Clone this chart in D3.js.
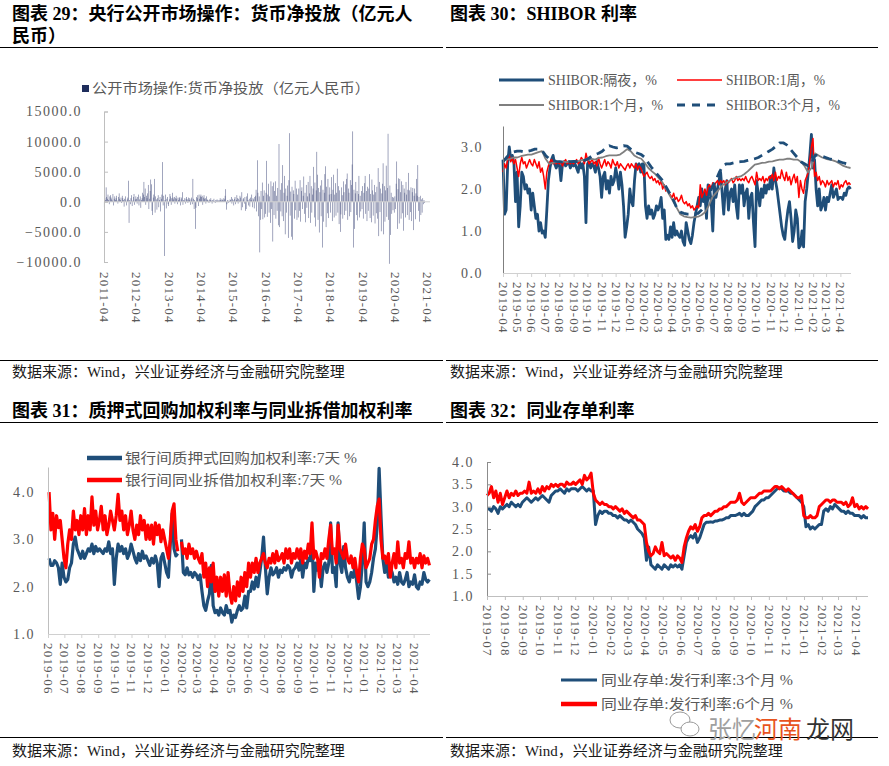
<!DOCTYPE html>
<html><head><meta charset="utf-8">
<script src="https://cdn.jsdelivr.net/npm/d3@7"></script>
<style>body{margin:0;background:#fff}svg{display:block}</style>
</head><body>
<svg id="c" width="889" height="766"></svg>
<script>
// ---------------- DATA ----------------
// Chart 29: weekly net injection (亿元人民币), from 2011-04 weekly
const netInjection = [
-900,600,300,2400,800,500,1200,300,-400,900,1100,700,400,200,1300,-600,500,900,300,600,1000,200,-300,800,1400,500,300,700,-200,1000,600,300,-800,500,900,200,-600,400,700,3500,-3500,300,-400,600,1100,-700,200,800,1300,-500,400,900,
500,-300,800,1200,-600,400,900,-1000,300,600,1500,1200,3300,800,2200,-500,1000,600,1400,2800,-1200,500,1800,3700,2900,-1500,-2200,700,1200,3800,-1800,900,400,-1300,600,1100,-900,300,800,-1600,500,1200,6600,-600,1000,-9000,300,1200,-1100,500,800,-400,
-700,400,1300,900,-500,600,1500,700,400,800,-300,600,1000,500,-400,700,300,600,800,-600,400,700,1600,-500,300,200,600,-300,500,800,400,-200,700,300,600,-500,400,700,-400,3800,500,-1200,300,-4500,-1000,800,600,1100,-700,1200,500,900,
1200,800,1000,-500,700,1100,500,600,-300,900,400,300,200,-200,400,300,600,200,-300,300,200,500,100,-200,300,200,400,200,100,300,200,600,300,200,500,300,200,600,400,1000,2100,-1300,-400,300,-200,200,100,400,300,800,-300,500,
300,-600,500,800,-400,300,1100,600,-300,500,200,1000,700,-1400,1600,-900,400,600,-300,800,-1500,-1200,900,1400,300,-600,500,-800,700,300,1200,-900,600,400,-1100,800,1000,2000,-1600,6900,1500,-2400,900,-8400,-3000,1800,-1200,3200,-2900,1000,1900,-2600,
-2000,1500,6800,-2500,1200,3000,-1800,900,-3500,3400,-1200,2600,-6600,3200,-2200,1800,3400,-2800,1000,-1500,2300,-3900,9600,-4200,2000,-1600,3100,-2400,6100,-3200,1500,4300,-5400,2200,-1800,1000,2700,-6000,3600,11400,-2300,1700,-5800,2500,-6300,1900,1300,-2800,3500,-1400,2200,-3000,
1200,-2600,2200,-1500,3600,-3300,1800,2400,-1200,1000,4200,-2000,1500,-3400,2800,-1000,900,3300,-2700,1400,4300,-3500,2600,-1800,1200,2200,5800,-2600,3200,-4100,1900,8300,4500,-3000,2300,-5100,1600,2700,-2400,3600,-7600,2000,-3300,1500,4600,5900,-4200,2500,-1900,3800,-2700,1200,
2400,-1800,1300,4100,-3200,2000,4500,-2600,1200,3100,-2300,1500,5500,-1800,2600,-3700,1900,-5000,-2100,2400,1100,-2800,3400,1600,-2200,2900,-1500,3800,4700,-3000,2200,1500,-2400,3600,-1700,2800,6200,11700,-7600,2000,-4500,1400,3300,-2200,1800,-3100,1300,4300,-2600,1000,-1600,1800,
-1200,2600,-2800,1500,3100,4300,-2000,1800,-3200,2500,-1500,2200,4600,-2700,1300,-3400,3700,1900,-2300,1200,2800,-3600,1600,-1900,2500,-2800,5600,-5700,3300,-1700,2200,-4900,1400,3000,6400,-5400,2600,-3300,1900,6000,-2500,2300,11300,-3000,-10300,2700,-5500,1500,-2000,800,-1400,700,
-1800,900,-1200,3000,6700,-4500,2100,3900,-3600,3800,1600,-2800,3400,-1900,2800,-4800,2200,1500,-2600,3300,1200,-2200,2000,4800,-3000,1900,-1700,2400,-3200,1600,2300,-4700,1000,2200,-2900,1400,3800,1000,6100,-1500,800,-3300,1000,-2200,400,-1800,600,-400,300,-200
];
const netTicks = [-10000,-5000,0,5000,10000,15000];

// Chart 30: SHIBOR (%), 2019-04-01 .. 2021-04-23
const shiborON = [
2.7,1.4,1.5,2.6,3.0,2.7,2.8,2.6,1.7, 2.4,1.1,1.6,2.4,2.3,2.0,2.1,1.9,2.0, 1.5,1.9,1.6,1.3,1.4,1.0,1.2,0.95,1.0,
0.85,1.5,2.2,2.5,2.7,2.8,2.6,2.5,2.6, 2.6,2.2,2.6,2.65,2.55,2.6,2.65,2.5,2.6, 2.55,2.6,2.5,2.4,2.65,2.5,2.6,2.3,1.2,
2.6,2.65,2.5,2.6,2.55,2.4,2.65,2.5,2.3, 1.8,2.3,2.4,2.0,2.2,1.9,2.3,2.1,2.2, 2.5,2.3,2.0,2.4,2.1,1.6,0.85,1.1,1.4,
2.0,1.7,1.6,2.2,2.6,2.5,2.6,2.4,2.6, 2.6,1.6,1.3,1.6,1.4,1.5,1.3,1.4,1.6, 1.5,1.6,1.8,1.3,1.5,0.8,0.9,0.8,1.1,
0.85,1.2,0.9,1.0,0.9,0.85,1.0,0.75,0.66, 1.2,1.0,0.8,0.7,0.9,1.2,1.4,1.6,1.8, 1.6,2.0,1.7,1.9,1.3,2.1,2.0,1.7,1.0,
2.1,1.8,2.0,2.2,2.4,1.9,1.4,2.0,2.2, 1.5,1.9,2.0,1.7,2.1,1.6,1.3,2.1,1.9, 2.1,1.6,1.9,2.0,1.3,1.8,1.9,1.2,0.63,
2.2,1.9,1.6,2.0,1.8,2.1,1.9,2.1,2.0, 2.3,2.0,2.5,2.2,2.0,1.7,1.4,1.1,0.9, 0.8,1.2,1.5,1.7,1.3,0.75,1.0,1.5,1.3,
0.6,0.65,1.0,0.62,1.7,2.0,2.4,2.8,3.3, 2.5,2.7,2.0,1.6,2.0,1.5,1.6,1.8,1.5, 1.8,1.7,1.9,2.1,1.8,1.9,2.0,1.75,1.8,
1.8,1.75,1.9,1.85,2.0,2.05,2.0
];
const shibor1W = [
2.4,2.6,2.5,2.7,2.8,2.65,2.75,2.6,2.7, 2.5,2.3,2.6,2.75,2.6,2.65,2.5,2.6,2.7, 2.6,2.55,2.7,2.6,2.5,2.65,2.4,2.5,2.3,
2.0,2.4,2.55,2.65,2.7,2.6,2.65,2.6,2.65, 2.6,2.65,2.55,2.65,2.7,2.6,2.65,2.6,2.65, 2.6,2.65,2.7,2.6,2.65,2.75,2.7,2.6,2.85,
2.7,2.6,2.65,2.7,2.6,2.65,2.55,2.75,2.6, 2.5,2.6,2.7,2.55,2.65,2.6,2.5,2.7,2.6, 2.55,2.65,2.5,2.6,2.55,2.5,2.45,2.55,2.6,
2.5,2.6,2.55,2.5,2.6,2.45,2.55,2.5,2.4, 2.3,2.35,2.4,2.3,2.25,2.3,2.2,2.25,2.15, 2.2,2.1,2.2,2.0,2.1,1.95,2.0,1.9,1.85,
1.8,1.9,1.75,1.8,1.7,1.75,1.85,1.7,1.65, 1.7,1.6,1.65,1.55,1.6,1.5,1.55,1.6,1.55, 2.1,1.8,1.9,2.0,1.85,2.05,2.1,2.0,2.15,
2.1,2.15,2.2,2.1,2.2,2.15,2.2,2.1,2.2, 2.15,2.2,2.25,2.15,2.2,2.3,2.2,2.25,2.2, 2.25,2.2,2.3,2.2,2.15,2.25,2.3,2.2,2.1,
2.4,2.2,2.25,2.2,2.3,2.15,2.25,2.2,2.3, 2.25,2.35,2.2,2.4,2.2,2.3,2.25,2.45,2.3, 2.2,2.4,2.2,2.3,2.1,2.25,2.35,2.15,2.3,
1.8,2.2,2.0,1.9,2.2,2.3,2.4,2.7,3.0, 3.2,2.3,2.4,2.2,2.3,2.1,2.2,2.15,2.05, 2.2,2.1,2.15,2.2,2.05,2.15,2.1,2.2,2.0,
2.1,2.05,2.15,2.2,2.1,2.15,2.1
];
const shibor1M = [
2.7,2.7,2.72,2.75, 2.75,2.78,2.8,2.82, 2.82,2.85,2.88,2.9, 2.72,2.6,2.62,2.64, 2.65,2.65,2.64,2.66,
2.65,2.66,2.68,2.7, 2.7,2.72,2.7,2.74, 2.75,2.78,2.8,2.8, 2.8,2.82,2.88,2.95, 2.9,2.8,2.75,2.72,
2.62,2.5,2.42,2.35, 2.25,2.15,2.0,1.85, 1.7,1.55,1.4,1.35, 1.33,1.32,1.33,1.34, 1.38,1.45,1.6,1.8,
1.9,2.0,2.1,2.15, 2.2,2.25,2.28,2.3, 2.35,2.42,2.5,2.58, 2.6,2.62,2.63,2.65, 2.66,2.68,2.7,2.7,
2.72,2.72,2.7,2.7, 2.65,2.55,2.4,2.5, 2.85,2.8,2.75,2.72, 2.7,2.68,2.65,2.6, 2.55,2.52,2.5
];
const shibor3M = [
2.65,2.75,2.85,2.88, 2.9,2.9,2.88,2.9, 2.92,2.95,2.95,2.92, 2.8,2.72,2.68,2.66, 2.65,2.64,2.65,2.65,
2.66,2.65,2.67,2.68, 2.72,2.78,2.82,2.85, 2.9,2.98,3.03,3.0, 2.98,3.0,3.03,3.02, 2.95,2.88,2.85,2.82,
2.75,2.62,2.5,2.4, 2.3,2.2,2.05,1.9, 1.75,1.55,1.45,1.42, 1.4,1.4,1.41,1.42, 1.5,1.6,1.8,2.05,
2.2,2.4,2.55,2.6, 2.6,2.62,2.64,2.65, 2.66,2.68,2.7,2.72, 2.75,2.8,2.85,2.9, 2.95,3.02,3.1,3.1,
3.05,2.95,2.85,2.75, 2.65,2.6,2.55,2.6, 2.8,2.8,2.78,2.75, 2.72,2.7,2.68,2.65, 2.62,2.6,2.58
];
const shiborTicks = [0,1,2,3];

// Chart 31: 7-day weighted rates (%), 2019-06-03 .. 2021-04-30 (null = holiday gap)
const repo7D = [
2.6,2.45,2.45,2.55,2.5,2.4,2.05,2.5,2.2, 2.1,2.15,2.4,2.5,2.9,3.05,2.8,2.7,2.6, 2.75,2.6,2.7,2.8,2.75,2.9,2.7,2.85,2.75,
2.8,2.75,2.7,2.8,2.75,2.95,2.7,2.8,2.05, 2.6,2.9,2.75,2.85,2.7,2.8,2.6,2.7,2.9, 2.75,2.6,2.5,2.7,2.55,2.75,2.6,2.65,2.55,
2.45,2.6,2.5,2.65,2.5,2.0,2.6,2.7,2.5, 2.3,2.2,2.9,3.55,2.8,2.65,2.7,null, 3.0,2.3,2.25,2.4,2.25,2.3,2.2,2.3,2.25,
2.15,2.25,1.9,1.6,1.5,1.7,1.85,2.45,1.6, 1.45,1.5,1.4,1.55,1.45,1.4,1.6,1.45,1.5, 1.25,1.4,1.35,1.5,1.6,1.5,1.55,1.8,1.55,
1.9,1.9,2.1,1.95,2.2,2.0,2.3,2.6,3.05, 2.4,1.85,2.2,2.4,2.25,2.3,2.4,2.2,2.35, 2.3,2.4,2.35,2.45,2.4,2.2,2.35,2.4,2.5,
2.35,2.6,2.2,2.5,2.4,2.6,2.55,3.0,1.9, 2.5,2.35,2.45,2.0,2.4,2.5,2.3,2.5,3.35, 2.3,2.4,2.0,3.35,2.5,2.3,2.85,2.4,2.2,
2.1,2.3,2.2,2.4,2.1,1.75,2.0,2.5,3.35, 2.1,2.0,2.1,2.3,2.6,2.8,3.3,4.5,3.5, 2.6,2.3,2.5,2.2,2.4,2.3,2.1,2.2,2.05,
2.3,2.1,2.05,2.15,2.3,2.0,2.1,2.05,2.25, 2.0,1.95,2.1,2.05,2.3,2.15,2.1,2.15
];
const ibo7D = [
4.0,3.2,3.55,3.0,3.5,3.25,3.4,3.0,2.6, 2.4,2.9,3.2,3.0,3.6,3.2,3.4,3.1,3.5, 3.2,3.65,3.1,3.5,3.2,3.9,3.3,3.6,3.2,
3.4,3.7,3.2,3.5,3.1,3.3,3.6,3.4,3.2, 3.5,3.95,3.4,3.6,3.2,3.5,3.1,3.3,3.6, 3.2,3.0,3.3,3.1,3.5,3.2,3.4,3.0,3.3,
3.0,3.3,2.9,3.35,3.1,3.3,2.95,3.2,3.0, 2.8,2.6,3.0,3.6,3.75,3.0,2.75,null, 2.95,2.7,2.8,2.6,2.9,2.7,2.8,2.6,2.75,
2.6,2.5,2.7,2.2,2.5,2.0,2.4,2.1,2.5, 1.9,2.2,1.8,2.2,1.9,2.25,1.8,2.3,1.85, 1.65,2.0,1.7,2.1,1.8,2.2,1.9,2.3,2.0,
2.5,2.2,2.5,2.3,2.6,2.3,2.5,2.6,2.7, 2.5,2.4,2.6,2.5,2.7,2.5,2.75,2.55,2.6, 2.7,2.5,2.8,2.6,2.8,2.5,2.7,2.6,2.8,
2.6,2.8,2.5,2.75,2.6,2.9,2.7,3.35,2.6, 2.75,2.6,2.2,2.7,2.6,2.8,2.6,3.0,3.3, 2.7,2.8,2.5,3.3,2.8,2.7,2.6,2.9,2.6,
2.5,2.65,2.4,2.6,2.3,2.1,2.6,2.9,2.8, 2.4,2.5,2.6,2.9,3.0,3.4,3.7,3.85,3.0, 2.6,2.65,2.5,2.7,2.2,2.5,2.7,2.4,2.95,
2.5,2.6,2.4,2.7,2.6,2.95,2.5,2.6,2.4, 2.6,2.5,2.7,2.4,2.65,2.5,2.6,2.45
];
const rateTicks31 = [1,2,3,4];

// Chart 32: NCD issue rates (%), 2019-07-01 .. 2021-04-22
const ncd3M = [
2.95,2.95,2.9,3.0,2.95,2.85,3.0,2.95, 3.0,3.05,3.0,3.1,3.05,3.0,3.05,3.0, 3.1,3.15,3.2,3.15,3.1,3.15,3.2,3.15,
3.2,3.25,3.2,3.15,3.1,3.25,3.3,3.35, 3.35,3.4,3.35,3.3,3.4,3.35,3.4,3.4, 3.4,3.35,3.4,3.45,3.4,3.35,3.4,3.35,
3.35,2.6,2.8,2.9,2.85,2.9,2.9,2.85, 2.85,2.8,2.8,2.75,2.8,2.75,2.7,2.7, 2.65,2.7,2.65,2.6,2.5,2.45,2.4,2.3,
1.8,2.1,1.7,1.65,1.6,1.7,1.65,1.6, 1.7,1.65,1.6,1.7,1.65,1.7,1.65,1.7, 1.6,1.9,2.2,2.3,2.35,2.3,2.4,2.2,
2.3,2.45,2.6,2.65,2.65,2.66,2.65,2.68, 2.68,2.7,2.7,2.72,2.75,2.75,2.8,2.8, 2.8,2.82,2.85,2.8,2.85,2.8,2.8,2.85,
2.9,3.0,3.05,3.1,3.15,3.15,3.2,3.2, 3.25,3.3,3.35,3.4,3.42,3.4,3.35,3.35, 3.35,3.3,3.3,3.25,3.2,3.15,3.1,3.0,
2.55,2.6,2.5,2.55,2.5,2.55,2.6,2.6, 2.9,2.95,2.9,3.0,2.95,3.05,3.0,2.95, 2.9,2.9,2.85,2.9,2.85,2.85,2.8,2.8,
2.8,2.75,2.8,2.75,2.75
];
const ncd6M = [
3.25,3.3,3.45,3.2,3.35,3.1,3.3,3.05, 3.2,3.35,3.2,3.3,3.25,3.35,3.25,3.3, 3.3,3.35,3.3,3.55,3.3,3.35,3.3,3.4,
3.3,3.45,3.35,3.45,3.4,3.5,3.45,3.5, 3.45,3.5,3.5,3.45,3.55,3.5,3.5,3.55, 3.5,3.55,3.6,3.5,3.7,3.6,3.65,3.75,
3.3,3.15,3.1,3.05,3.1,3.05,3.05,3.0, 3.0,2.95,3.0,2.95,2.9,2.95,2.85,2.9, 2.85,2.8,2.75,2.8,2.7,2.7,2.65,2.6,
2.2,2.0,1.9,1.95,2.1,2.0,1.95,2.2, 1.9,1.95,1.9,1.85,1.9,1.8,1.9,1.85, 1.75,2.1,2.3,2.45,2.55,2.5,2.6,2.45,
2.55,2.75,2.8,2.8,2.85,2.8,2.85,2.9, 2.9,2.95,2.95,3.0,3.0,3.05,3.1,3.1, 3.1,3.15,3.3,3.1,3.05,3.1,3.15,3.2,
3.2,3.2,3.25,3.3,3.3,3.35,3.35,3.35, 3.35,3.4,3.45,3.45,3.4,3.45,3.4,3.35, 3.4,3.35,3.3,3.25,3.2,3.2,3.25,2.8,
2.75,2.75,2.8,2.75,2.75,2.8,3.0,3.05, 3.1,3.15,3.15,3.1,3.15,3.15,3.1,3.1, 3.1,3.05,3.1,3.0,3.05,3.2,3.0,3.05,
2.95,3.0,2.95,3.0,2.95
];
const rateTicks32 = [1.0,1.5,2.0,2.5,3.0,3.5,4.0];

// ---------------- DRAW ----------------
const FONT = '"Liberation Serif","Noto Sans CJK SC",serif';
const svg = d3.select('#c');
svg.append('rect').attr('width',889).attr('height',766).attr('fill','#fff');

const spread = (s,e,n) => d3.range(n).map(i => new Date(+s + (e - s) * i / (n - 1)));
const monthFmt = d3.timeFormat('%Y-%m');

function txt(x,y,s,opt={}){
  const t = svg.append('text').attr('x',x).attr('y',y).text(s)
    .style('font-family',FONT).style('font-size',(opt.size||14)+'px')
    .attr('fill',opt.fill||'#595959');
  if(opt.bold) t.style('font-weight','bold');
  if(opt.len) t.attr('textLength',opt.len).attr('lengthAdjust','spacingAndGlyphs');
  return t;
}
function hline(x1,x2,y,c='#000'){
  svg.append('line').attr('x1',x1).attr('x2',x2).attr('y1',y).attr('y2',y).attr('stroke',c).attr('stroke-width',1);
}

// Frame text
txt(12,20,'图表 29：央行公开市场操作：货币净投放（亿元人',{size:18,bold:true,fill:'#000'});
txt(12,42,'民币）',{size:18,bold:true,fill:'#000'});
hline(0,443,47.5);
txt(450,20,'图表 30：SHIBOR 利率',{size:18,bold:true,fill:'#000'});
hline(446,878,47.5);
hline(0,443,360.5); hline(446,878,360.5);
txt(12,377,'数据来源：Wind，兴业证券经济与金融研究院整理',{size:15,fill:'#1a1a1a'});
txt(450,377,'数据来源：Wind，兴业证券经济与金融研究院整理',{size:15,fill:'#1a1a1a'});
txt(12,417,'图表 31：质押式回购加权利率与同业拆借加权利率',{size:18,bold:true,fill:'#000'});
hline(0,443,422.5);
txt(450,417,'图表 32：同业存单利率',{size:18,bold:true,fill:'#000'});
hline(446,878,422.5);
hline(0,443,737.5); hline(446,878,737.5);
txt(12,756,'数据来源：Wind，兴业证券经济与金融研究院整理',{size:15,fill:'#1a1a1a'});
txt(450,756,'数据来源：Wind，兴业证券经济与金融研究院整理',{size:15,fill:'#1a1a1a'});

function styleY(g,color,pad){
  g.select('.domain').attr('stroke',color);
  g.selectAll('.tick line').attr('stroke',color);
  g.selectAll('.tick text').attr('fill','#595959').style('font-family',FONT)
    .style('font-size','14px').style('letter-spacing','1.5px').attr('x',-pad);
}
function styleX(g,color,off){
  g.select('.domain').attr('stroke',color);
  g.selectAll('.tick line').attr('stroke',color);
  g.selectAll('.tick text').attr('fill','#595959').style('font-family',FONT)
    .style('font-size','13px').style('letter-spacing','1.2px')
    .attr('transform','rotate(90)').attr('x',off).attr('y',0).attr('dy','0.35em').attr('text-anchor','start');
}
function monthTicks(a,b){ return d3.timeMonth.range(a, d3.timeDay.offset(b,1)); }

// ---------- Chart 29 ----------
{
  const x = d3.scaleTime().domain([new Date(2011,3,1), new Date(2021,4,1)]).range([104,430]);
  const y = d3.scaleLinear().domain([-10000,15000]).range([262,111.5]);
  const dates = netInjection.map((v,i) => d3.timeDay.offset(new Date(2011,3,4), i*7));
  svg.append('g').selectAll('rect').data(netInjection).join('rect')
    .attr('x',(d,i)=>x(dates[i])-0.3).attr('width',0.6)
    .attr('y',d=>Math.min(y(d),y(0))).attr('height',d=>Math.abs(y(d)-y(0)))
    .attr('fill','#3c4577').attr('fill-opacity',0.8);
  hline(104,430,y(0),'#d0d0d0');
  const gy = svg.append('g').attr('transform','translate(104,0)')
    .call(d3.axisLeft(y).tickValues(netTicks).tickSize(-4).tickFormat(d3.format('.1f')));
  styleY(gy,'#bfbfbf',22);
  const years = d3.range(2011,2022).map(yr=>new Date(yr,3,1));
  const gx = svg.append('g').attr('transform','translate(0,262)')
    .call(d3.axisBottom(x).tickValues(years).tickSize(0).tickFormat(monthFmt));
  gx.select('.domain').remove();
  styleX(gx,'#fff',10);
  svg.append('rect').attr('x',82).attr('y',85).attr('width',7).attr('height',7).attr('fill','#1f2d5c');
  txt(92,93,'公开市场操作:货币净投放（亿元人民币）',{size:14,len:278});
}

// ---------- Chart 30 ----------
{
  const x = d3.scaleTime().domain([new Date(2019,3,1), new Date(2021,3,24)]).range([503,851]);
  const y = d3.scaleLinear().domain([0,3.5]).range([273,126]);
  const s = new Date(2019,3,1), e = new Date(2021,3,23);
  const dA = spread(s,e,shiborON.length), dB = spread(s,e,shibor1M.length);
  const line = d3.line().x(d=>x(d[0])).y(d=>y(d[1]));
  const g = svg.append('g').attr('fill','none').attr('stroke-linejoin','round');
  g.append('path').attr('d',line(shiborON.map((v,i)=>[dA[i],v]))).attr('stroke','#1f4e79').attr('stroke-width',2.8);
  g.append('path').attr('d',line(shibor1W.map((v,i)=>[dA[i],v]))).attr('stroke','#ff0000').attr('stroke-width',1.5);
  g.append('path').attr('d',line(shibor1M.map((v,i)=>[dB[i],v]))).attr('stroke','#7f7f7f').attr('stroke-width',1.8);
  g.append('path').attr('d',line(shibor3M.map((v,i)=>[dB[i],v]))).attr('stroke','#1f4e79').attr('stroke-width',2.8).attr('stroke-dasharray','9,6');
  const gy = svg.append('g').attr('transform','translate(503,0)')
    .call(d3.axisLeft(y).tickValues(shiborTicks).tickSize(0).tickFormat(d3.format('.1f')));
  styleY(gy,'#7f7f7f',20);
  const gx = svg.append('g').attr('transform','translate(0,273)')
    .call(d3.axisBottom(x).tickValues(monthTicks(new Date(2019,3,1),new Date(2021,3,1))).tickSize(4).tickFormat(monthFmt));
  gx.select('.domain').attr('d','M503,0.5H851');
  styleX(gx,'#d0d0d0',9);
  // legend
  const L = [['SHIBOR:隔夜，%',499,80,'#1f4e79',3,null,109],['SHIBOR:1周，%',677,80,'#ff0000',1.5,null,99],
             ['SHIBOR:1个月，%',499,105,'#7f7f7f',2,null,115],['SHIBOR:3个月，%',677,105,'#1f4e79',3,'8,7',114]];
  L.forEach(([t,lx,ly,c,w,da,len])=>{
    const l = svg.append('line').attr('x1',lx).attr('x2',lx+45).attr('y1',ly).attr('y2',ly).attr('stroke',c).attr('stroke-width',w);
    if(da) l.attr('stroke-dasharray',da);
    txt(lx+49,ly+5,t,{size:14,len});
  });
}

// ---------- Chart 31 ----------
{
  const x = d3.scaleTime().domain([new Date(2019,5,1), new Date(2021,4,1)]).range([48,430]);
  const y = d3.scaleLinear().domain([1,4.53]).range([634,467]);
  const d = spread(new Date(2019,5,3), new Date(2021,3,30), repo7D.length);
  const line = d3.line().defined(v=>v[1]!=null).x(v=>x(v[0])).y(v=>y(v[1]));
  const g = svg.append('g').attr('fill','none').attr('stroke-linejoin','round');
  g.append('path').attr('d',line(repo7D.map((v,i)=>[d[i],v]))).attr('stroke','#1f4e79').attr('stroke-width',3.2);
  g.append('path').attr('d',line(ibo7D.map((v,i)=>[d[i],v]))).attr('stroke','#ff0000').attr('stroke-width',3.2);
  const gy = svg.append('g').attr('transform','translate(48,0)')
    .call(d3.axisLeft(y).tickValues(rateTicks31).tickSize(0).tickFormat(d3.format('.1f')));
  styleY(gy,'#bfbfbf',13);
  const gx = svg.append('g').attr('transform','translate(0,634)')
    .call(d3.axisBottom(x).tickValues(monthTicks(new Date(2019,5,1),new Date(2021,3,1))).tickSize(4).tickFormat(monthFmt));
  gx.select('.domain').attr('d','M48,0.5H430');
  styleX(gx,'#d0d0d0',9);
  [['银行间质押式回购加权利率:7天 %',458,'#1f4e79',232],['银行间同业拆借加权利率:7天 %',480,'#ff0000',217]].forEach(([t,ly,c,len])=>{
    svg.append('line').attr('x1',87).attr('x2',122).attr('y1',ly).attr('y2',ly).attr('stroke',c).attr('stroke-width',4.5);
    txt(125,ly+5,t,{size:14,len});
  });
}

// ---------- Chart 32 ----------
{
  const x = d3.scaleTime().domain([new Date(2019,6,1), new Date(2021,3,22)]).range([487,868]);
  const y = d3.scaleLinear().domain([1,4]).range([596,462]);
  const d = spread(new Date(2019,6,1), new Date(2021,3,22), ncd3M.length);
  const line = d3.line().x(v=>x(v[0])).y(v=>y(v[1]));
  const g = svg.append('g').attr('fill','none').attr('stroke-linejoin','round');
  g.append('path').attr('d',line(ncd3M.map((v,i)=>[d[i],v]))).attr('stroke','#1f4e79').attr('stroke-width',3);
  g.append('path').attr('d',line(ncd6M.map((v,i)=>[d[i],v]))).attr('stroke','#ff0000').attr('stroke-width',3);
  const gy = svg.append('g').attr('transform','translate(487,0)')
    .call(d3.axisLeft(y).tickValues(rateTicks32).tickSize(-4).tickFormat(d3.format('.1f')));
  styleY(gy,'#8c8c8c',13);
  const gx = svg.append('g').attr('transform','translate(0,596)')
    .call(d3.axisBottom(x).tickValues(monthTicks(new Date(2019,6,1),new Date(2021,3,1))).tickSize(4).tickFormat(monthFmt));
  gx.select('.domain').attr('d','M487,0.5H868');
  styleX(gx,'#bfbfbf',9);
  [['同业存单:发行利率:3个月 %',680,'#1f4e79',3,192],['同业存单:发行利率:6个月 %',704,'#ff0000',4.5,192]].forEach(([t,ly,c,w,len])=>{
    svg.append('line').attr('x1',561).attr('x2',597).attr('y1',ly).attr('y2',ly).attr('stroke',c).attr('stroke-width',w);
    txt(601,ly+5,t,{size:14,len});
  });
}

// watermark
{
  const w = svg.append('g').attr('fill','none').attr('stroke','#9a9a9a').attr('stroke-width',1);
  w.append('ellipse').attr('cx',680).attr('cy',720).attr('rx',10).attr('ry',8);
  w.append('ellipse').attr('cx',690).attr('cy',729).attr('rx',9).attr('ry',7).attr('fill','#fff');
  txt(708,738,'张忆',{size:24,fill:'#a0a0a0'});
  txt(754,738,'河南',{size:24,fill:'#e8541e'});
  txt(806,738,'龙网',{size:24,fill:'#333'});
}
</script>
</body></html>
